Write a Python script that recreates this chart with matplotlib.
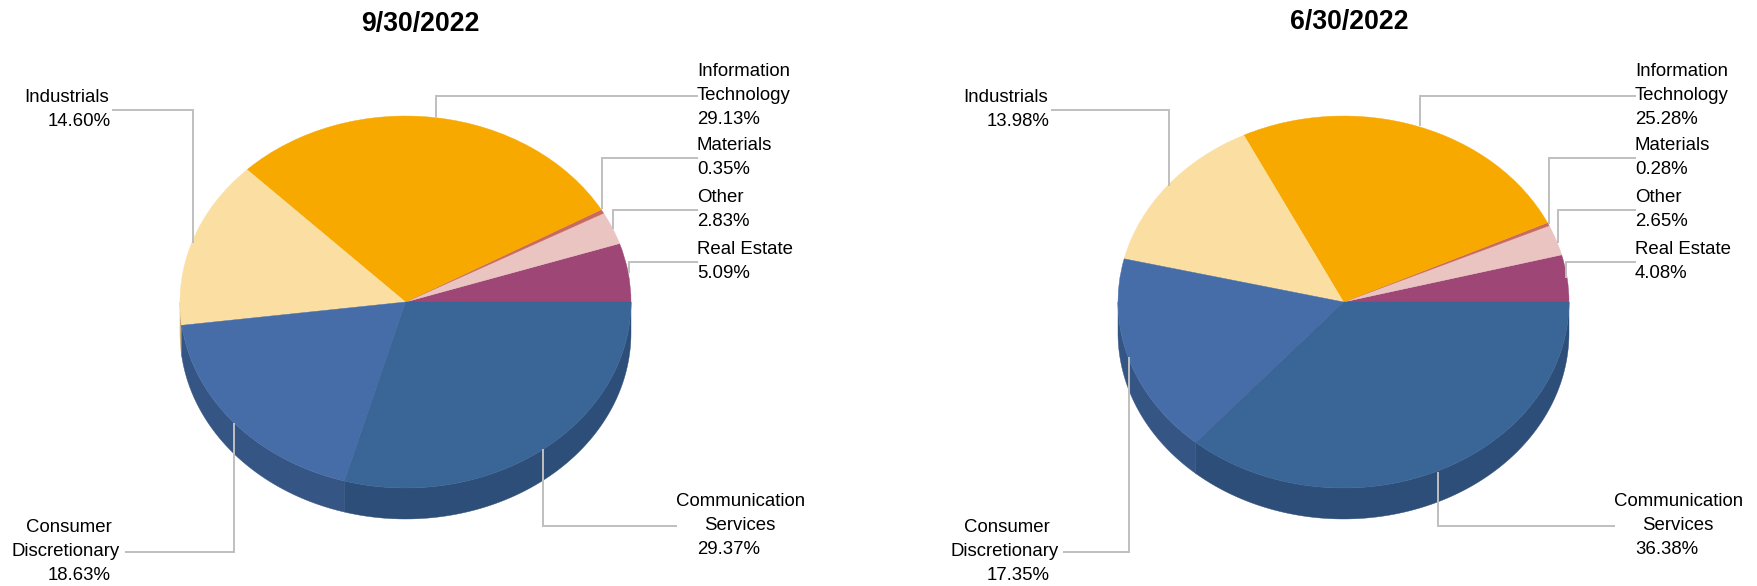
import numpy as np
import matplotlib
matplotlib.use("Agg")
import matplotlib.pyplot as plt

plt.rcParams['font.family'] = ['Liberation Sans', 'DejaVu Sans']

# ---------- data ----------
categories = ["Real Estate", "Other", "Materials", "Information Technology",
              "Industrials", "Consumer Discretionary", "Communication Services"]
titles = ["9/30/2022", "6/30/2022"]
values_sep = [5.09, 2.83, 0.35, 29.13, 14.60, 18.63, 29.37]
values_jun = [4.08, 2.65, 0.28, 25.28, 13.98, 17.35, 36.38]

# ---------- style ----------
top_colors = ["#9E4776", "#EAC4C1", "#C96A62", "#F7A900", "#FBDFA2", "#466DA8", "#3A6597"]
side_colors = ["#7A3759", "#B49594", "#9A504A", "#BC8000", "#C4AE7E", "#355584", "#2D4E78"]
LINE_COLOR = "#BFBFBF"
W, H = 1758, 586
RX, RY, DEPTH = 225.5, 186.0, 31.0
CENTERS = [(405.5, 302.0), (1343.5, 302.0)]
TITLE_POS = [(420, 21), (1349.5, 20)]

# leader polylines in figure pixels (label end, elbow, pie end)
leaders = [
    [[(698, 262), (629, 262), (629, 273)],
     [(698, 210), (613, 210), (613, 229)],
     [(698, 158), (602, 158), (602, 209)],
     [(698, 96), (436.5, 96), (436.5, 117)],
     [(112, 110), (193, 110), (193, 243)],
     [(125, 552), (234, 552), (234, 423)],
     [(677, 526), (543, 526), (543, 449)]],
    [[(1636, 262), (1566, 262), (1566, 278)],
     [(1636, 210), (1558, 210), (1558, 243)],
     [(1636, 158), (1549, 158), (1549, 224)],
     [(1636, 96), (1420, 96), (1420, 126)],
     [(1051, 110), (1169, 110), (1169, 186)],
     [(1063, 552), (1129, 552), (1129, 357)],
     [(1615, 526), (1438, 526), (1438, 472)]],
]

# label layout: (text lines, [(x, centre y, ha) per line])
label_lines = [["Real Estate"], ["Other"], ["Materials"], ["Information", "Technology"],
               ["Industrials"], ["Consumer", "Discretionary"], ["Communication", "Services"]]
label_layout = [
    [[(697, 248, 'left'), (697, 272, 'left')],
     [(697, 196, 'left'), (697, 220, 'left')],
     [(697, 144, 'left'), (697, 168, 'left')],
     [(697, 70, 'left'), (697, 94, 'left'), (697, 118, 'left')],
     [(109, 96, 'right'), (111, 120, 'right')],
     [(69, 526, 'center'), (66, 550, 'center'), (111, 574, 'right')],
     [(741, 500, 'center'), (740, 524, 'center'), (697, 548, 'left')]],
    [[(1635, 248, 'left'), (1635, 272, 'left')],
     [(1635, 196, 'left'), (1635, 220, 'left')],
     [(1635, 144, 'left'), (1635, 168, 'left')],
     [(1635, 70, 'left'), (1635, 94, 'left'), (1635, 118, 'left')],
     [(1048, 96, 'right'), (1050, 120, 'right')],
     [(1007, 526, 'center'), (1005, 550, 'center'), (1050, 574, 'right')],
     [(1679, 500, 'center'), (1678, 524, 'center'), (1635, 548, 'left')]],
]

fig = plt.figure(figsize=(W / 100, H / 100), dpi=100, facecolor="white")


def draw_pie(values, center):
    cx, cy = center
    m = 1.1
    d = DEPTH / RY
    left = (cx - m * RX) / W
    width = 2 * m * RX / W
    bottom = (H - (cy + (m + d) * RY)) / H
    height = (2 * m + d) * RY / H
    ax = fig.add_axes([left, bottom, width, height])
    # Side wall: the part of each slice's rim on the front half of the ellipse
    edges = np.concatenate([[0], np.cumsum(values)]) / np.sum(values) * 360
    for a0, a1, col in zip(edges[:-1], edges[1:], side_colors):
        lo, hi = max(a0, 180), min(a1, 360)
        if hi <= lo:
            continue
        t = np.radians(np.linspace(lo, hi, 120))
        x = np.cos(t)
        y = np.sin(t)
        ax.fill(np.concatenate([x, x[::-1]]), np.concatenate([y, y[::-1] - d]),
                color=col, lw=0.3, zorder=1)
    wedges, _ = ax.pie(values, colors=top_colors, startangle=0, counterclock=True,
                       radius=1, wedgeprops=dict(linewidth=0.3, antialiased=True))
    for w, c in zip(wedges, top_colors):
        w.set_edgecolor(c)
        w.set_zorder(2)
    ax.set_aspect('auto')
    ax.set_xlim(-m, m)
    ax.set_ylim(-m - d, m)
    ax.axis('off')


draw_pie(values_sep, CENTERS[0])
draw_pie(values_jun, CENTERS[1])

# overlay in figure pixels
ov = fig.add_axes([0, 0, 1, 1], zorder=5)
ov.set_xlim(0, W)
ov.set_ylim(H, 0)
ov.axis('off')
ov.patch.set_alpha(0)

for chart, values in enumerate([values_sep, values_jun]):
    tx, ty = TITLE_POS[chart]
    ov.text(tx, ty + 9.5, titles[chart], fontsize=19.2, fontweight='bold',
            ha='center', va='baseline', color='black')
    for i, val in enumerate(values):
        pts = leaders[chart][i]
        ov.plot([p[0] for p in pts], [p[1] for p in pts], color=LINE_COLOR, lw=1.4,
                solid_joinstyle='miter', solid_capstyle='butt')
        lines = label_lines[i] + [f"{val:.2f}%"]
        for s, (x, y, ha) in zip(lines, label_layout[chart][i]):
            ov.text(x, y + 6.5, s, fontsize=13.4, ha=ha, va='baseline', color='black')

fig.savefig("out.png", dpi=100, facecolor="white")
